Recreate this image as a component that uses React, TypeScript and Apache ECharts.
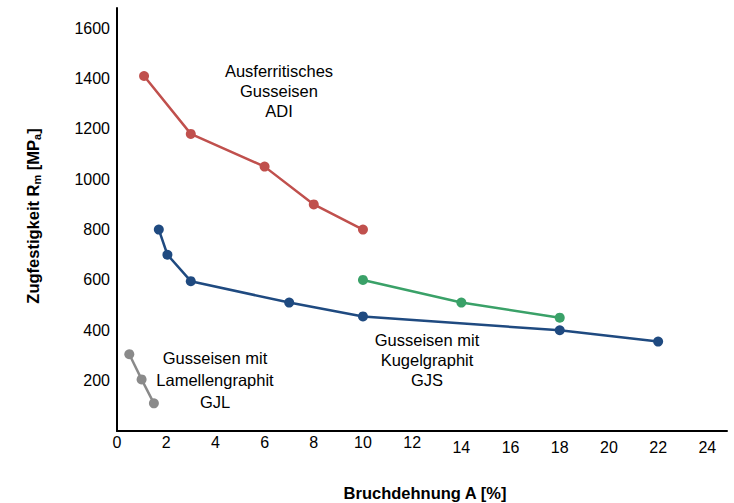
import React, { useEffect, useRef } from "react";
import * as echarts from "echarts";

// Bruchdehnung A [%] (x) and Zugfestigkeit Rm [MPa] (y)
const adiX = [1.1, 3, 6, 8, 10];
const adiY = [1410, 1180, 1050, 900, 800];

const gjsX = [1.7, 2.05, 3, 7, 10, 18, 22];
const gjsY = [800, 700, 595, 510, 455, 400, 355];

const gjsGreenX = [10, 14, 18];
const gjsGreenY = [600, 510, 450];

const gjlX = [0.5, 1.0, 1.5];
const gjlY = [305, 205, 110];

const xTicks = [0, 2, 4, 6, 8, 10, 12, 14, 16, 18, 20, 22, 24];
const yTicks = [200, 400, 600, 800, 1000, 1200, 1400, 1600];

const FONT = "'Liberation Sans', Arial, sans-serif";
const TICK_SIZE = 16;

const pairs = (xs: number[], ys: number[]) => xs.map((x, i) => [x, ys[i]]);

export default function App() {
  const ref = useRef<HTMLDivElement>(null);
  useEffect(() => {
    if (!ref.current) return;
    const chart = echarts.init(ref.current, undefined, { renderer: "svg" });
    const lineSeries = (name: string, data: number[][], color: string) => ({
      name,
      type: "line",
      data,
      symbol: "circle",
      symbolSize: 10,
      showSymbol: true,
      lineStyle: { color, width: 2.5 },
      itemStyle: { color },
      emphasis: { disabled: true },
    });
    chart.setOption({
      animation: false,
      backgroundColor: "#ffffff",
      grid: { left: 117, right: 7, top: 8, bottom: 72, containLabel: false },
      xAxis: {
        type: "value",
        min: 0,
        max: 24.8,
        interval: 2,
        axisLine: { show: true, onZero: false, lineStyle: { color: "#000", width: 2 } },
        axisTick: { show: false },
        splitLine: { show: false },
        axisLabel: {
          margin: 3,
          color: "#000",
          fontSize: TICK_SIZE,
          fontFamily: FONT,
          formatter: (v: number) => {
            if (!xTicks.includes(v)) return "";
            return v >= 14 ? `{lo|${v}}` : `{n|${v}}`;
          },
          rich: {
            n: { fontSize: TICK_SIZE, fontFamily: FONT, color: "#000" },
            lo: { fontSize: TICK_SIZE, fontFamily: FONT, color: "#000", padding: [5, 0, 0, 0] },
          },
        },
      },
      yAxis: {
        type: "value",
        min: 0,
        max: 1680,
        interval: 200,
        axisLine: { show: true, onZero: false, lineStyle: { color: "#000", width: 2 } },
        axisTick: { show: false },
        splitLine: { show: false },
        axisLabel: {
          margin: 7,
          color: "#000",
          fontSize: TICK_SIZE,
          fontFamily: FONT,
          formatter: (v: number) => (yTicks.includes(v) ? String(v) : ""),
        },
      },
      series: [
        lineSeries("Ausferritisches Gusseisen ADI", pairs(adiX, adiY), "#C0504D"),
        lineSeries("Gusseisen mit Kugelgraphit GJS", pairs(gjsX, gjsY), "#1F4A80"),
        lineSeries("Gusseisen mit Kugelgraphit GJS (ferritisch)", pairs(gjsGreenX, gjsGreenY), "#3AA168"),
        lineSeries("Gusseisen mit Lamellengraphit GJL", pairs(gjlX, gjlY), "#8A8A8A"),
      ],
      graphic: [
        {
          type: "text",
          x: 279,
          y: 91,
          style: {
            text: "Ausferritisches\nGusseisen\nADI",
            fill: "#000",
            fontSize: 16.5,
            fontFamily: FONT,
            lineHeight: 20,
            align: "center",
            verticalAlign: "middle",
          },
        },
        {
          type: "text",
          x: 215,
          y: 380,
          style: {
            text: "Gusseisen mit\nLamellengraphit\nGJL",
            fill: "#000",
            fontSize: 16.5,
            fontFamily: FONT,
            lineHeight: 22,
            align: "center",
            verticalAlign: "middle",
          },
        },
        {
          type: "text",
          x: 427,
          y: 360,
          style: {
            text: "Gusseisen mit\nKugelgraphit\nGJS",
            fill: "#000",
            fontSize: 16.5,
            fontFamily: FONT,
            lineHeight: 20,
            align: "center",
            verticalAlign: "middle",
          },
        },
        {
          type: "text",
          x: 425,
          y: 493,
          style: {
            text: "Bruchdehnung A [%]",
            fill: "#000",
            fontSize: 16.5,
            fontWeight: "bold",
            fontFamily: FONT,
            align: "center",
            verticalAlign: "middle",
          },
        },
        {
          type: "text",
          x: 33,
          y: 216,
          rotation: Math.PI / 2,
          style: {
            text: "Zugfestigkeit R{sub|m} [MP{sub|a}]",
            fill: "#000",
            fontSize: 16.5,
            fontWeight: "bold",
            fontFamily: FONT,
            align: "center",
            verticalAlign: "middle",
            rich: {
              sub: {
                fontSize: 11,
                fontWeight: "bold",
                fontFamily: FONT,
                fill: "#000",
                verticalAlign: "bottom",
                padding: [8, 0, 0, 0],
              },
            },
          },
        },
      ],
    });
    return () => chart.dispose();
  }, []);
  return (
    <div
      ref={ref}
      style={{ position: "fixed", left: 0, top: 0, width: 734, height: 503 }}
    />
  );
}
